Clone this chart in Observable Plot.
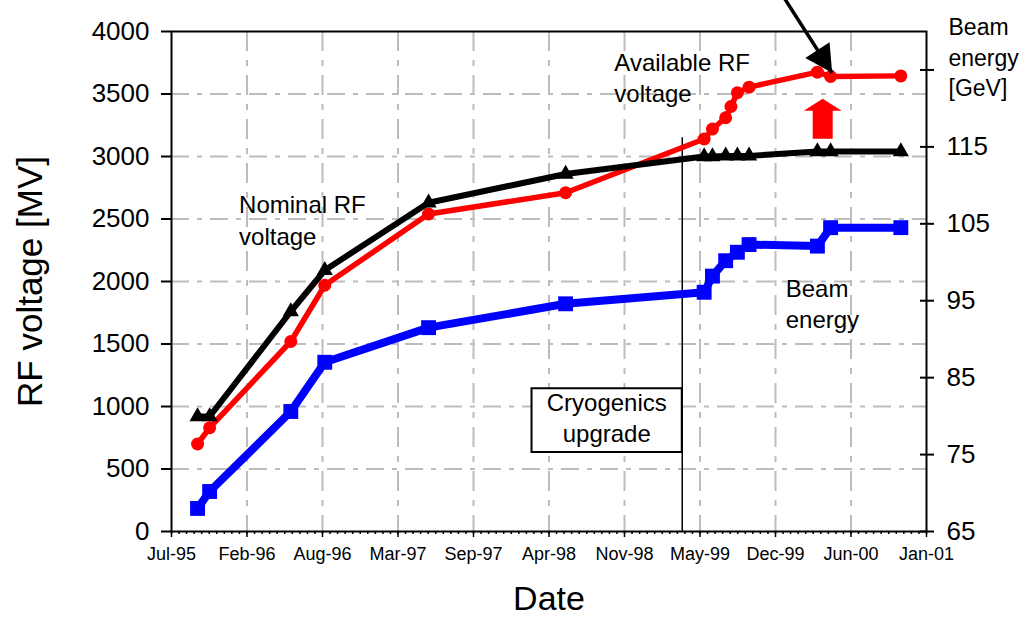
<!DOCTYPE html>
<html>
<head>
<meta charset="utf-8">
<script src="https://cdn.jsdelivr.net/npm/d3@7"></script>
<script src="https://cdn.jsdelivr.net/npm/@observablehq/plot@0.6"></script>
<style>
  html, body { margin: 0; padding: 0; background: #fff; }
  #chart svg { display: block; }
</style>
</head>
<body>
<div id="chart"></div>
<script>
// ---- Axis definitions -------------------------------------------------
const DAY = 864e5;
const axisStart = new Date(Date.UTC(1995, 6, 20));
const xTickLabels = ["Jul-95", "Feb-96", "Aug-96", "Mar-97", "Sep-97", "Apr-98",
                     "Nov-98", "May-99", "Dec-99", "Jun-00", "Jan-01"];
const xTickStepDays = 200;
const xMinorStepDays = 20;

const rfTicks = [0, 500, 1000, 1500, 2000, 2500, 3000, 3500, 4000];
const gevTicks = [65, 75, 85, 95, 105, 115, 125];
const gevLabelled = [65, 75, 85, 95, 105, 115];
const gevRange = [65, 130];
const rfRange = [0, 4000];

// ---- Series -----------------------------------------------------------
// Beam energy [GeV] (right axis)
const beamDates = ["1995-09-27", "1995-10-29", "1996-05-31", "1996-08-29", "1997-05-31",
                   "1998-05-29", "1999-05-31", "1999-06-22", "1999-07-27", "1999-08-27",
                   "1999-09-27", "2000-03-26", "2000-04-30", "2000-11-02"];
const beamGeV = [68, 70.2, 80.6, 87, 91.5, 94.6, 96.1, 98.2, 100.2, 101.3, 102.3, 102.1, 104.5, 104.5];

// Nominal RF voltage [MV]
const nominalDates = ["1995-09-27", "1995-10-29", "1996-05-31", "1996-08-29", "1997-05-31",
                      "1998-05-29", "1999-05-31", "1999-06-22", "1999-07-27", "1999-08-27",
                      "1999-09-27", "2000-03-26", "2000-04-30", "2000-11-02"];
const nominalMV = [920, 920, 1760, 2090, 2630, 2860, 3000, 3000, 3005, 3005, 3005, 3040, 3040, 3040];

// Available RF voltage [MV]
const availableDates = ["1995-09-27", "1995-10-29", "1996-05-31", "1996-08-29", "1997-05-31",
                        "1998-05-29", "1999-05-31", "1999-06-22", "1999-07-27", "1999-08-10",
                        "1999-08-27", "1999-09-27", "2000-03-26", "2000-04-30", "2000-11-02"];
const availableMV = [700, 830, 1520, 1970, 2540, 2710, 3140, 3220, 3310, 3400, 3510, 3555, 3675, 3640, 3645];

// Cryogenics upgrade
const cryoDate = "1999-04-03";
const cryoLineTopMV = 3150;
const cryoBox = {x1: "1998-03-01", x2: cryoDate, y1: 632, y2: 1142};

// ---- Helpers ----------------------------------------------------------
const toDate = s => new Date(s + "T00:00:00Z");
const gevToRF = g => (g - gevRange[0]) / (gevRange[1] - gevRange[0]) * (rfRange[1] - rfRange[0]);

const majorTicks = xTickLabels.map((_, i) => new Date(+axisStart + i * xTickStepDays * DAY));
const xEnd = majorTicks[majorTicks.length - 1];
const minorTicks = d3.range(0, (xTickLabels.length - 1) * xTickStepDays + 1, xMinorStepDays)
  .map(d => new Date(+axisStart + d * DAY));
const labelFor = d => xTickLabels[Math.round((d - axisStart) / DAY / xTickStepDays)];

const beam = beamDates.map((d, i) => ({date: toDate(d), rf: gevToRF(beamGeV[i])}));
const nominal = nominalDates.map((d, i) => ({date: toDate(d), rf: nominalMV[i]}));
const available = availableDates.map((d, i) => ({date: toDate(d), rf: availableMV[i]}));

// Glyphs for the two annotation arrows
const arrowHead = {           // filled head, tip at origin, pointing up
  draw(ctx) {
    ctx.moveTo(0, 0);
    ctx.lineTo(-14.5, 27);
    ctx.lineTo(14.5, 27);
    ctx.closePath();
  }
};
const blockArrow = {          // block arrow, base at origin, pointing up
  draw(ctx) {
    ctx.moveTo(-10, 0);
    ctx.lineTo(-10, -28);
    ctx.lineTo(-19, -28);
    ctx.lineTo(0, -40);
    ctx.lineTo(19, -28);
    ctx.lineTo(10, -28);
    ctx.lineTo(10, 0);
    ctx.closePath();
  }
};

const pointer = {tail: {date: toDate("1999-12-16"), rf: 4330}, tip: {date: toDate("2000-05-04"), rf: 3670}};
const upArrow = {date: toDate("2000-04-09"), rf: 3142};

const RED = "#ff0000", BLUE = "#0000ff", BLACK = "#000000";
const GRID = "#bdbdbd";
const FONT = "'Liberation Sans', Arial, Helvetica, sans-serif";

const sideNotes = [
  {text: "Nominal RF\nvoltage", date: toDate("1996-01-15"), rf: 2500},
  {text: "Available RF\nvoltage", date: toDate("1998-10-05"), rf: 3640},
  {text: "Beam\nenergy", date: toDate("2000-01-02"), rf: 1835}
];
const cryoNote = [{text: "Cryogenics\nupgrade", date: toDate("1998-09-15"), rf: 917}];

const chart = Plot.plot({
  width: 1021,
  height: 618,
  marginTop: 31,
  marginBottom: 87,
  marginLeft: 171,
  marginRight: 95,
  style: {fontFamily: FONT, fontSize: "18px", color: "black", background: "white"},
  x: {type: "utc", domain: [axisStart, xEnd]},
  y: {domain: rfRange},
  marks: [
    // grid
    Plot.gridY(rfTicks.slice(1, -1), {stroke: GRID, strokeOpacity: 1, strokeWidth: 2, strokeDasharray: "18,8,5,8"}),
    Plot.gridX(majorTicks.slice(1, -1), {stroke: GRID, strokeOpacity: 1, strokeWidth: 2, strokeDasharray: "20,9,6,9"}),

    // axes
    Plot.axisX(minorTicks, {tickSize: 3, text: null, label: null, strokeWidth: 1.5}),
    Plot.axisX(majorTicks, {tickSize: 6, tickPadding: 10, tickFormat: labelFor, fontSize: 18, label: null, strokeWidth: 1.5}),
    Plot.axisY(rfTicks, {anchor: "left", tickSize: 10, tickPadding: 12, fontSize: 26, label: null, strokeWidth: 2,
      tickFormat: v => String(v)}),
    Plot.axisY(gevTicks.map(gevToRF), {anchor: "right", tickSize: 7, tickPadding: 13, fontSize: 26, label: null, strokeWidth: 2,
      tickFormat: v => {
        const g = Math.round(gevRange[0] + v / rfRange[1] * (gevRange[1] - gevRange[0]));
        return gevLabelled.includes(g) ? String(g) : "";
      }}),
    Plot.axisY(gevTicks.map(gevToRF), {anchor: "right", tickSize: -7, text: null, label: null, strokeWidth: 2}),

    // cryogenics upgrade marker
    Plot.ruleX([toDate(cryoDate)], {y1: 0, y2: cryoLineTopMV, stroke: BLACK, strokeWidth: 1.5}),
    Plot.rect([cryoBox], {x1: d => toDate(d.x1), x2: d => toDate(d.x2), y1: "y1", y2: "y2",
      fill: "white", stroke: BLACK, strokeWidth: 2}),

    // beam energy
    Plot.line(beam, {x: "date", y: "rf", stroke: BLUE, strokeWidth: 8}),
    Plot.dot(beam, {x: "date", y: "rf", symbol: "square", r: 8.4, fill: BLUE, stroke: "none"}),

    // available RF voltage
    Plot.line(available, {x: "date", y: "rf", stroke: RED, strokeWidth: 5.5}),
    Plot.dot(available, {x: "date", y: "rf", symbol: "circle", r: 6.5, fill: RED, stroke: "none"}),

    // nominal RF voltage
    Plot.line(nominal, {x: "date", y: "rf", stroke: BLACK, strokeWidth: 6}),
    Plot.dot(nominal, {x: "date", y: "rf", symbol: "triangle", r: 6, fill: BLACK, stroke: "none"}),

    // arrows
    Plot.dot([upArrow], {x: "date", y: "rf", symbol: blockArrow, fill: RED, stroke: "none"}),
    Plot.link([pointer], {x1: d => d.tail.date, y1: d => d.tail.rf, x2: d => d.tip.date, y2: d => d.tip.rf,
      stroke: BLACK, strokeWidth: 3.5}),
    Plot.dot([pointer.tip], {x: "date", y: "rf", symbol: arrowHead, rotate: 147, fill: BLACK, stroke: "none"}),

    // annotations
    Plot.text(sideNotes, {x: "date", y: "rf", text: "text", textAnchor: "start", lineAnchor: "middle",
      fontSize: 24, lineHeight: 1.3, fill: BLACK, ariaLabel: "annotation"}),
    Plot.text(cryoNote, {x: "date", y: "rf", text: "text", textAnchor: "middle", lineAnchor: "middle",
      fontSize: 24, lineHeight: 1.3, fill: BLACK, ariaLabel: "annotation"}),

    // axis titles
    Plot.text(["Beam\nenergy\n[GeV]"], {frameAnchor: "top-right", textAnchor: "start", lineAnchor: "top",
      dx: 22, dy: -18, fontSize: 23, lineHeight: 1.33, fill: BLACK}),
    Plot.text(["RF voltage [MV]"], {frameAnchor: "left", rotate: -90, dx: -141, fontSize: 35,
      textAnchor: "middle", lineAnchor: "middle", fill: BLACK}),
    Plot.text(["Date"], {frameAnchor: "bottom", dy: 68, fontSize: 34, textAnchor: "middle",
      lineAnchor: "middle", fill: BLACK}),

    Plot.frame({stroke: BLACK, strokeWidth: 2})
  ]
});

chart.querySelectorAll('g[aria-label="annotation"] text').forEach(t => t.setAttribute("letter-spacing", "1"));
document.getElementById("chart").appendChild(chart);
</script>
</body>
</html>
